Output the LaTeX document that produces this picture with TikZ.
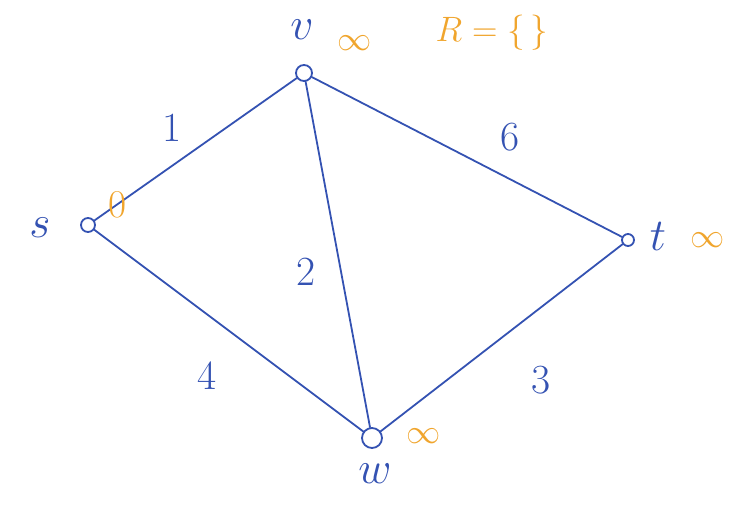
\documentclass[tikz,border=0pt]{standalone}
\usepackage{amssymb}
\definecolor{penblue}{RGB}{52,82,178}
\definecolor{penorange}{RGB}{240,165,45}
\tikzset{
	vtx/.style={circle, draw=penblue, line width=1.8pt, inner sep=0pt},
	lbl/.style={text=penblue, scale=2},
	vname/.style={text=penblue, scale=2.2},
	dist/.style={text=penorange, scale=1.65}
}
\begin{document}
\begin{tikzpicture}[x=1pt, y=-1pt, font=\huge, line join=round, line cap=round]
	\useasboundingbox (0,0) rectangle (731,507);
	\path (88,225) coordinate (S)
	(304,73) coordinate (V)
	(628,240) coordinate (T)
	(372,438) coordinate (W);
	\node[vtx, minimum size=14pt] (s) at (S) {};
	\node[vtx, minimum size=16pt] (v) at (V) {};
	\node[vtx, minimum size=12pt] (t) at (T) {};
	\node[vtx, minimum size=20pt] (w) at (W) {};
	\draw[penblue, line width=1.8pt] (s) -- (v) (v) -- (t) (v) -- (w) (s) -- (w) (w) -- (t);
	\node[vname] (ls) at (40,228) {$s$};
	\node[vname] (lv) at (302,30) {$v$};
	\node[vname] (lt) at (658,236) {$t$};
	\node[vname] (lw) at (375,474) {$w$};
	\node[lbl] (e1) at (172,128) {1};
	\node[lbl] (e6) at (510,137) {6};
	\node[lbl] (e2) at (306,272) {2};
	\node[lbl] (e4) at (207,376) {4};
	\node[lbl] (e3) at (541,380) {3};
	\node[dist, scale=1.15] (ds) at (118,205) {0};
	\node[dist] (dv) at (355,43) {$\infty$};
	\node[dist] (dt) at (708,240) {$\infty$};
	\node[dist] (dw) at (424,436) {$\infty$};
	\node[text=penorange, scale=1.7] (R) at (492,33) {$R=\{\,\}$};
\end{tikzpicture}
\end{document}
